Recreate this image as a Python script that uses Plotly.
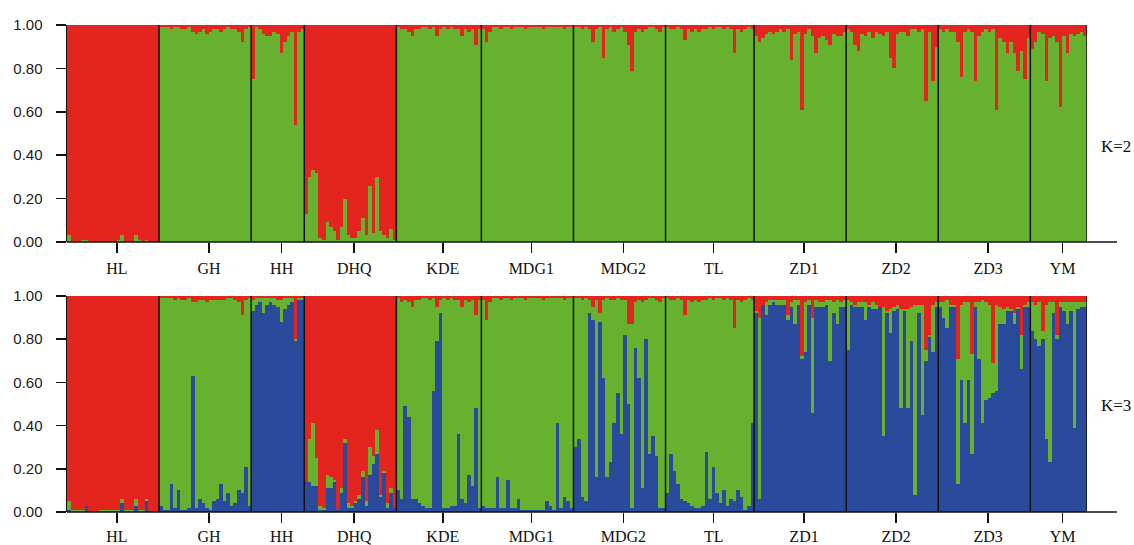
import plotly.graph_objects as go

# ---------------- data (proportions per individual) ----------------
POPULATIONS = ["HL", "GH", "HH", "DHQ", "KDE", "MDG1", "MDG2", "TL", "ZD1", "ZD2", "ZD3", "YM"]
Y_TICKS = [0.0, 0.2, 0.4, 0.6, 0.8, 1.0]

# K=2 : red cluster proportion (green = remainder)
HL_K2_RED = [0.97, 1, 1, 1, 0.99, 0.99, 1, 1, 1, 1, 1, 1, 1, 1, 0.99, 0.97, 1, 1, 1, 0.97, 0.99, 1, 0.99, 1, 1, 1]
GH_K2_RED = [0.01, 0.01, 0.01, 0.02, 0.01, 0.01, 0.02, 0.02, 0.01, 0.03, 0.04, 0.03, 0.02, 0.04, 0.03, 0.02, 0.02, 0.03, 0.02, 0.01, 0.02, 0.02, 0.03, 0.08, 0.02, 0.01]
HH_K2_RED = [0.25, 0.01, 0.02, 0.04, 0.05, 0.05, 0.03, 0.04, 0.13, 0.08, 0.05, 0.03, 0.46, 0.03, 0.02]
DHQ_K2_RED = [0.87, 0.70, 0.67, 0.68, 0.98, 0.99, 0.91, 0.93, 0.95, 0.99, 0.93, 0.80, 0.97, 0.98, 0.98, 0.95, 0.89, 0.97, 0.74, 0.96, 0.70, 0.95, 0.97, 0.98, 0.94, 0.99]
KDE_K2_RED = [0.01, 0.02, 0.02, 0.03, 0.05, 0.02, 0.02, 0.01, 0.01, 0.02, 0.01, 0.05, 0.02, 0.01, 0.02, 0.01, 0.02, 0.02, 0.05, 0.02, 0.03, 0.02, 0.09, 0.02]
MDG1_K2_RED = [0.02, 0.08, 0.03, 0.01, 0.01, 0.02, 0.01, 0.01, 0.02, 0.01, 0.01, 0.01, 0.02, 0.01, 0.01, 0.01, 0.01, 0.02, 0.01, 0.01, 0.01, 0.01, 0.01, 0.02, 0.01, 0.01]
MDG2_K2_RED = [0.01, 0.01, 0.02, 0.01, 0.02, 0.08, 0.02, 0.01, 0.15, 0.02, 0.01, 0.03, 0.02, 0.01, 0.03, 0.09, 0.21, 0.03, 0.02, 0.03, 0.02, 0.01, 0.01, 0.02, 0.03, 0.01]
TL_K2_RED = [0.01, 0.02, 0.02, 0.01, 0.02, 0.07, 0.02, 0.03, 0.02, 0.03, 0.02, 0.02, 0.01, 0.02, 0.01, 0.01, 0.02, 0.01, 0.02, 0.13, 0.02, 0.03, 0.02, 0.01, 0.02]
ZD1_K2_RED = [0.05, 0.08, 0.06, 0.04, 0.03, 0.04, 0.03, 0.02, 0.03, 0.02, 0.16, 0.04, 0.03, 0.39, 0.04, 0.02, 0.05, 0.13, 0.06, 0.05, 0.07, 0.09, 0.04, 0.05, 0.05, 0.03]
ZD2_K2_RED = [0.02, 0.03, 0.09, 0.12, 0.04, 0.05, 0.03, 0.06, 0.03, 0.04, 0.05, 0.03, 0.15, 0.20, 0.04, 0.03, 0.03, 0.05, 0.02, 0.02, 0.03, 0.02, 0.35, 0.03, 0.26, 0.10]
ZD3_K2_RED = [0.02, 0.03, 0.02, 0.03, 0.03, 0.08, 0.24, 0.03, 0.02, 0.03, 0.26, 0.05, 0.03, 0.02, 0.03, 0.02, 0.39, 0.06, 0.08, 0.13, 0.08, 0.13, 0.21, 0.12, 0.25, 0.06]
YM_K2_RED = [0.11, 0.08, 0.03, 0.04, 0.26, 0.06, 0.05, 0.08, 0.38, 0.05, 0.13, 0.04, 0.05, 0.04, 0.03, 0.05]

# K=3 : blue and red cluster proportions (green = remainder)
HL_K3_BLUE = [0.01, 0, 0, 0, 0, 0.03, 0, 0, 0, 0, 0, 0, 0, 0, 0, 0.04, 0, 0, 0, 0.03, 0, 0, 0.05, 0, 0, 0]
HL_K3_RED = [0.95, 0.99, 0.99, 0.99, 0.99, 0.97, 1, 1, 1, 0.99, 0.99, 0.99, 0.99, 0.99, 0.99, 0.94, 0.99, 0.99, 0.99, 0.94, 0.99, 0.99, 0.94, 1, 1, 1]
GH_K3_BLUE = [0.03, 0.01, 0.01, 0.13, 0.02, 0.10, 0.01, 0.01, 0.02, 0.63, 0.02, 0.06, 0.04, 0.02, 0.01, 0.05, 0.06, 0.13, 0.05, 0.09, 0.03, 0.04, 0.10, 0.09, 0.21, 0.03]
GH_K3_RED = [0.01, 0.01, 0.01, 0.01, 0.02, 0.01, 0.02, 0.02, 0.01, 0.03, 0.03, 0.02, 0.02, 0.03, 0.02, 0.02, 0.02, 0.02, 0.02, 0.01, 0.01, 0.02, 0.03, 0.09, 0.02, 0.01]
HH_K3_BLUE = [0.93, 0.96, 0.97, 0.92, 0.96, 0.97, 0.96, 0.95, 0.88, 0.94, 0.96, 0.97, 0.79, 0.98, 0.98]
HH_K3_RED = [0.02, 0.01, 0.01, 0.01, 0.01, 0.01, 0.01, 0.02, 0.02, 0.01, 0.01, 0.01, 0.20, 0.01, 0.01]
DHQ_K3_BLUE = [0.14, 0.14, 0.12, 0.12, 0.01, 0.01, 0.11, 0.11, 0.14, 0.01, 0.09, 0.32, 0.02, 0.02, 0.04, 0.06, 0.16, 0.03, 0.17, 0.22, 0.27, 0.07, 0.18, 0.02, 0.09, 0.02]
DHQ_K3_RED = [0.86, 0.66, 0.59, 0.75, 0.97, 0.98, 0.83, 0.84, 0.85, 0.99, 0.89, 0.66, 0.96, 0.97, 0.95, 0.92, 0.81, 0.95, 0.70, 0.74, 0.62, 0.92, 0.81, 0.96, 0.89, 0.98]
KDE_K3_BLUE = [0.10, 0.06, 0.49, 0.44, 0.06, 0.06, 0.04, 0.03, 0.02, 0.02, 0.56, 0.79, 0.92, 0.02, 0.02, 0.03, 0.03, 0.36, 0.06, 0.04, 0.17, 0.12, 0.48, 0.02]
KDE_K3_RED = [0.01, 0.03, 0.02, 0.03, 0.05, 0.02, 0.02, 0.01, 0.01, 0.02, 0.01, 0.05, 0.02, 0.01, 0.02, 0.01, 0.02, 0.02, 0.05, 0.02, 0.03, 0.02, 0.09, 0.02]
MDG1_K3_BLUE = [0.03, 0.02, 0.02, 0.02, 0.16, 0.02, 0.02, 0.15, 0.02, 0.02, 0.06, 0.01, 0.01, 0.01, 0.01, 0.01, 0.01, 0.01, 0.05, 0.03, 0.01, 0.41, 0.02, 0.07, 0.05, 0.02]
MDG1_K3_RED = [0.02, 0.11, 0.03, 0.01, 0.01, 0.02, 0.01, 0.01, 0.02, 0.01, 0.01, 0.01, 0.02, 0.01, 0.01, 0.01, 0.01, 0.02, 0.01, 0.01, 0.01, 0.01, 0.01, 0.02, 0.01, 0.01]
MDG2_K3_BLUE = [0.30, 0.34, 0.07, 0.05, 0.92, 0.89, 0.16, 0.88, 0.62, 0.16, 0.23, 0.41, 0.55, 0.36, 0.82, 0.50, 0.02, 0.76, 0.62, 0.11, 0.80, 0.27, 0.35, 0.26, 0.02, 0.02]
MDG2_K3_RED = [0.01, 0.01, 0.02, 0.01, 0.02, 0.05, 0.02, 0.08, 0.02, 0.01, 0.02, 0.02, 0.01, 0.02, 0.02, 0.13, 0.13, 0.03, 0.02, 0.03, 0.02, 0.01, 0.01, 0.02, 0.03, 0.01]
TL_K3_BLUE = [0.09, 0.27, 0.19, 0.13, 0.06, 0.05, 0.04, 0.03, 0.02, 0.02, 0.03, 0.28, 0.06, 0.21, 0.09, 0.04, 0.10, 0.03, 0.06, 0.05, 0.10, 0.07, 0.01, 0.03, 0.41]
TL_K3_RED = [0.01, 0.02, 0.02, 0.01, 0.02, 0.09, 0.02, 0.03, 0.02, 0.03, 0.02, 0.02, 0.01, 0.02, 0.01, 0.01, 0.02, 0.01, 0.02, 0.15, 0.02, 0.03, 0.02, 0.01, 0.02]
ZD1_K3_BLUE = [0.92, 0.06, 0.96, 0.91, 0.96, 0.97, 0.96, 0.96, 0.96, 0.89, 0.95, 0.87, 0.96, 0.71, 0.74, 0.96, 0.46, 0.95, 0.95, 0.95, 0.96, 0.70, 0.92, 0.87, 0.95, 0.95]
ZD1_K3_RED = [0.07, 0.10, 0.04, 0.03, 0.02, 0.02, 0.02, 0.02, 0.02, 0.09, 0.03, 0.02, 0.02, 0.28, 0.03, 0.02, 0.10, 0.02, 0.03, 0.03, 0.02, 0.02, 0.03, 0.02, 0.03, 0.02]
ZD2_K3_BLUE = [0.75, 0.96, 0.95, 0.95, 0.95, 0.89, 0.95, 0.94, 0.94, 0.95, 0.35, 0.92, 0.83, 0.93, 0.94, 0.48, 0.93, 0.48, 0.79, 0.08, 0.92, 0.45, 0.70, 0.81, 0.74, 0.95]
ZD2_K3_RED = [0.02, 0.03, 0.04, 0.03, 0.03, 0.03, 0.04, 0.03, 0.04, 0.05, 0.05, 0.07, 0.06, 0.05, 0.04, 0.06, 0.06, 0.06, 0.05, 0.04, 0.04, 0.04, 0.25, 0.18, 0.04, 0.03]
ZD3_K3_BLUE = [0.95, 0.90, 0.85, 0.95, 0.95, 0.13, 0.61, 0.41, 0.61, 0.27, 0.95, 0.71, 0.41, 0.52, 0.53, 0.55, 0.56, 0.87, 0.87, 0.93, 0.93, 0.87, 0.94, 0.66, 0.95, 0.95]
ZD3_K3_RED = [0.03, 0.03, 0.02, 0.04, 0.04, 0.29, 0.04, 0.03, 0.03, 0.27, 0.03, 0.03, 0.02, 0.03, 0.04, 0.31, 0.04, 0.05, 0.06, 0.05, 0.06, 0.08, 0.05, 0.18, 0.04, 0.03]
YM_K3_BLUE = [0.84, 0.80, 0.77, 0.80, 0.34, 0.23, 0.92, 0.80, 0.95, 0.93, 0.87, 0.93, 0.39, 0.94, 0.95, 0.95]
YM_K3_RED = [0.03, 0.04, 0.03, 0.16, 0.04, 0.03, 0.03, 0.18, 0.03, 0.03, 0.03, 0.03, 0.03, 0.03, 0.03, 0.03]

K2_RED_LISTS = [HL_K2_RED, GH_K2_RED, HH_K2_RED, DHQ_K2_RED, KDE_K2_RED, MDG1_K2_RED,
                MDG2_K2_RED, TL_K2_RED, ZD1_K2_RED, ZD2_K2_RED, ZD3_K2_RED, YM_K2_RED]
K3_BLUE_LISTS = [HL_K3_BLUE, GH_K3_BLUE, HH_K3_BLUE, DHQ_K3_BLUE, KDE_K3_BLUE, MDG1_K3_BLUE,
                 MDG2_K3_BLUE, TL_K3_BLUE, ZD1_K3_BLUE, ZD2_K3_BLUE, ZD3_K3_BLUE, YM_K3_BLUE]
K3_RED_LISTS = [HL_K3_RED, GH_K3_RED, HH_K3_RED, DHQ_K3_RED, KDE_K3_RED, MDG1_K3_RED,
                MDG2_K3_RED, TL_K3_RED, ZD1_K3_RED, ZD2_K3_RED, ZD3_K3_RED, YM_K3_RED]

# ---------------- assemble ----------------
sizes = [len(v) for v in K2_RED_LISTS]
for a, b, c in zip(K2_RED_LISTS, K3_BLUE_LISTS, K3_RED_LISTS):
    assert len(a) == len(b) == len(c)

k2_red = sum(K2_RED_LISTS, [])
k2_green = [max(0.0, 1 - r) for r in k2_red]
k3_blue = sum(K3_BLUE_LISTS, [])
k3_red = sum(K3_RED_LISTS, [])
k3_green = [max(0.0, 1 - b - r) for b, r in zip(k3_blue, k3_red)]
N = len(k2_red)
xs = list(range(N))

starts = []
acc = 0
for n in sizes:
    starts.append(acc)
    acc += n
boundaries = [s + n - 0.5 for s, n in zip(starts, sizes)]
tick_pos = [s + n / 2 + 0.6 for s, n in zip(starts, sizes)]

RED = "#E3241F"
GREEN = "#66B22E"
BLUE = "#2A4A9C"

W, H = 1134, 545
PX_L, PX_R = 67, 1087
ML, MR = PX_L, W - PX_R
PW = W - ML - MR


def ypaper(py):
    return 1 - py / H


def xpaper(px):
    return (px - ML) / PW


TOP_DOM = [ypaper(242), ypaper(25)]
BOT_DOM = [ypaper(512), ypaper(296)]

fig = go.Figure()


def add_bar(y, color, xa, ya):
    fig.add_trace(go.Bar(x=xs, y=y, width=1, marker=dict(color=color, line=dict(width=0)),
                         xaxis=xa, yaxis=ya, showlegend=False, hoverinfo="skip"))


add_bar(k2_green, GREEN, "x", "y")
add_bar(k2_red, RED, "x", "y")
add_bar(k3_blue, BLUE, "x2", "y2")
add_bar(k3_green, GREEN, "x2", "y2")
add_bar(k3_red, RED, "x2", "y2")

shapes = []
for xr, yr in (("x", "y"), ("x2", "y2")):
    for b in boundaries:
        shapes.append(dict(type="line", xref=xr, yref=yr, x0=b, x1=b, y0=0, y1=1,
                           line=dict(color="#111111", width=1.5)))
# x-axis line extending past the plotting area
for dom in (TOP_DOM, BOT_DOM):
    shapes.append(dict(type="line", xref="paper", yref="paper", x0=0, x1=xpaper(1117),
                       y0=dom[0], y1=dom[0], line=dict(color="#111111", width=1.5)))

xaxis_common = dict(range=[-0.5, N - 0.5], tickmode="array", tickvals=tick_pos, ticktext=POPULATIONS,
                    ticks="outside", ticklen=10, tickwidth=1.5, tickcolor="#111111",
                    showline=False, showgrid=False, zeroline=False, automargin=False,
                    tickfont=dict(family="Liberation Serif", size=16, color="#111111"),
                    fixedrange=True)
yaxis_common = dict(range=[0, 1], tickmode="array", tickvals=Y_TICKS, tickformat=".2f",
                    ticks="outside", ticklen=10, tickwidth=1.5, tickcolor="#111111",
                    showline=True, linecolor="#111111", linewidth=1.5,
                    showgrid=False, zeroline=False, automargin=False,
                    tickfont=dict(family="Liberation Sans", size=15, color="#1a1a1a"),
                    ticklabelstandoff=10, fixedrange=True)

fig.update_layout(
    template="none",
    width=W, height=H,
    margin=dict(l=ML, r=MR, t=0, b=0),
    paper_bgcolor="white", plot_bgcolor="white",
    barmode="stack", bargap=0,
    xaxis=dict(domain=[0, 1], anchor="y", ticklabelstandoff=2, **xaxis_common),
    yaxis=dict(domain=TOP_DOM, anchor="x", **yaxis_common),
    xaxis2=dict(domain=[0, 1], anchor="y2", ticklabelstandoff=0, **xaxis_common),
    yaxis2=dict(domain=BOT_DOM, anchor="x2", **yaxis_common),
    shapes=shapes,
    annotations=[
        dict(text="K=2", xref="paper", yref="paper", x=xpaper(1099), y=ypaper(146),
             xanchor="left", yanchor="middle", showarrow=False,
             font=dict(family="Liberation Serif", size=17, color="#111111")),
        dict(text="K=3", xref="paper", yref="paper", x=xpaper(1099), y=ypaper(405),
             xanchor="left", yanchor="middle", showarrow=False,
             font=dict(family="Liberation Serif", size=17, color="#111111")),
    ],
)

fig.write_html(
    "out.html",
    config={"displayModeBar": False, "staticPlot": True},
    post_script="document.body.style.margin='0';document.body.style.overflow='hidden';",
)
